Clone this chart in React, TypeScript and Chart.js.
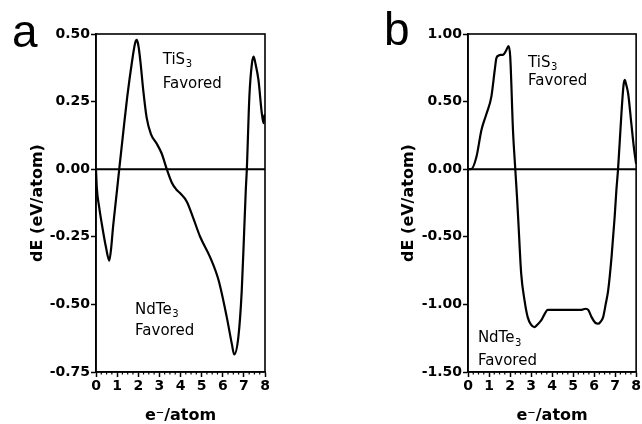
import React, { useEffect, useRef } from "react";
import { Chart, registerables } from "chart.js";

Chart.register(...registerables);

// ---------- data ----------
const xA = [0, 0.04, 0.15, 0.27, 0.47, 0.63, 0.72, 0.8, 0.95, 1.1, 1.3, 1.48, 1.69, 1.85, 1.93, 2.0, 2.1, 2.24, 2.4, 2.6, 2.87, 3.11, 3.35, 3.59, 3.8, 4.0, 4.3, 4.6, 4.93, 5.4, 5.8, 6.19, 6.43, 6.54, 6.74, 6.9, 7.01, 7.09, 7.14, 7.26, 7.38, 7.46, 7.55, 7.69, 7.85, 7.93, 7.97, 8.0];
const yA = [0.0, -0.07, -0.14, -0.2, -0.288, -0.338, -0.29, -0.22, -0.11, 0.0, 0.144, 0.268, 0.39, 0.466, 0.478, 0.46, 0.4, 0.29, 0.19, 0.13, 0.095, 0.058, 0.0, -0.05, -0.075, -0.09, -0.12, -0.18, -0.25, -0.325, -0.41, -0.547, -0.646, -0.685, -0.62, -0.448, -0.238, -0.078, 0.0, 0.268, 0.39, 0.416, 0.39, 0.33, 0.206, 0.17, 0.2, 0.18];

const xB = [0, 0.15, 0.4, 0.64, 0.88, 1.11, 1.27, 1.35, 1.45, 1.55, 1.66, 1.75, 1.82, 1.93, 2.01, 2.14, 2.25, 2.33, 2.4, 2.53, 2.69, 2.84, 3.0, 3.16, 3.3, 3.48, 3.65, 3.79, 4.0, 5.0, 5.4, 5.6, 5.72, 5.88, 6.05, 6.19, 6.3, 6.43, 6.55, 6.67, 6.83, 6.98, 7.06, 7.14, 7.3, 7.4, 7.46, 7.52, 7.62, 7.77, 7.9, 8.0];
const yB = [0.0, 0.0, 0.09, 0.29, 0.41, 0.535, 0.73, 0.82, 0.84, 0.845, 0.845, 0.86, 0.88, 0.91, 0.83, 0.29, 0.0, -0.2, -0.4, -0.77, -0.97, -1.094, -1.15, -1.168, -1.15, -1.119, -1.07, -1.04, -1.04, -1.04, -1.04, -1.032, -1.04, -1.094, -1.135, -1.143, -1.13, -1.094, -1.0, -0.896, -0.65, -0.35, -0.156, 0.0, 0.41, 0.62, 0.66, 0.63, 0.56, 0.34, 0.15, 0.04];

const xMin = 0;
const xMax = 8;
const yRangeA = [-0.75, 0.5];
const yRangeB = [-1.5, 1.0];
const yStepA = 0.25;
const yStepB = 0.5;

const xTitle = "e\u207B/atom";
const yTitle = "dE (eV/atom)";

// annotation anchors in data units: [x, y(baseline)]
const notesA = [
  { main: "TiS", sub: "3", x: 3.16, y: 0.39 },
  { main: "Favored", sub: "", x: 3.16, y: 0.3 },
  { main: "NdTe", sub: "3", x: 1.85, y: -0.535 },
  { main: "Favored", sub: "", x: 1.85, y: -0.615 },
];
const notesB = [
  { main: "TiS", sub: "3", x: 2.86, y: 0.758 },
  { main: "Favored", sub: "", x: 2.86, y: 0.622 },
  { main: "NdTe", sub: "3", x: 0.47, y: -1.28 },
  { main: "Favored", sub: "", x: 0.47, y: -1.45 },
];

const FONT = "'DejaVu Sans', sans-serif";

type Note = { main: string; sub: string; x: number; y: number };

function makePlugin(letter: string, letterX: number, letterY: number, notes: Note[]) {
  return {
    id: "frame",
    beforeDatasetsDraw(chart: any) {
      const { ctx, chartArea: a, scales } = chart;
      const y0 = scales.y.getPixelForValue(0);
      ctx.save();
      ctx.strokeStyle = "#000";
      ctx.lineWidth = 2;
      ctx.beginPath();
      ctx.moveTo(a.left, y0);
      ctx.lineTo(a.right, y0);
      ctx.stroke();
      // minor ticks on x axis
      ctx.lineWidth = 1.2;
      for (let i = 0; i <= (xMax - xMin) * 4; i++) {
        if (i % 4 === 0) continue;
        const px = scales.x.getPixelForValue(xMin + i * 0.25);
        ctx.beginPath();
        ctx.moveTo(px, a.bottom);
        ctx.lineTo(px, a.bottom + 2.5);
        ctx.stroke();
      }
      ctx.restore();
    },
    afterDraw(chart: any) {
      const { ctx, chartArea: a, scales } = chart;
      ctx.save();
      ctx.strokeStyle = "#000";
      ctx.lineWidth = 1.6;
      ctx.strokeRect(a.left, a.top, a.right - a.left, a.bottom - a.top);
      ctx.fillStyle = "#000";
      ctx.textBaseline = "alphabetic";
      ctx.textAlign = "left";
      ctx.font = `46px 'Liberation Sans', Arial, sans-serif`;
      ctx.fillText(letter, letterX, letterY);
      for (const n of notes) {
        const px = scales.x.getPixelForValue(n.x);
        const py = scales.y.getPixelForValue(n.y);
        ctx.font = `15px ${FONT}`;
        ctx.fillText(n.main, px, py);
        if (n.sub) {
          const w = ctx.measureText(n.main).width;
          ctx.font = `10px ${FONT}`;
          ctx.fillText(n.sub, px + w + 0.5, py + 3.5);
        }
      }
      ctx.restore();
    },
  };
}

function makeConfig(
  xs: number[],
  ys: number[],
  yRange: number[],
  yStep: number,
  yWidth: number,
  padRight: number,
  yTitlePad: number,
  plugin: any
): any {
  const tickFont = { family: FONT, size: 14, weight: "bold" as const };
  return {
    type: "line",
    data: {
      datasets: [
        {
          data: xs.map((x, i) => ({ x, y: ys[i] })),
          borderColor: "#000",
          borderWidth: 2.2,
          pointRadius: 0,
          fill: false,
          cubicInterpolationMode: "monotone",
        },
      ],
    },
    options: {
      responsive: false,
      animation: false,
      events: [],
      layout: { padding: { top: 34, right: padRight, bottom: 0, left: 0 } },
      plugins: { legend: { display: false }, tooltip: { enabled: false } },
      scales: {
        x: {
          type: "linear",
          min: xMin,
          max: xMax,
          afterFit: (s: any) => {
            s.height = 52;
          },
          ticks: {
            stepSize: 1,
            color: "#000",
            font: tickFont,
            padding: 1,
            maxRotation: 0,
            minRotation: 0,
            callback: (v: any) => String(v),
          },
          grid: {
            drawOnChartArea: false,
            drawTicks: true,
            tickLength: 5,
            tickColor: "#000",
            tickWidth: 1.5,
          },
          border: { display: true, color: "#000", width: 1.6 },
          title: {
            display: true,
            text: xTitle,
            color: "#000",
            font: { family: FONT, size: 16, weight: "bold" },
            padding: { top: 0, bottom: -1 },
          },
        },
        y: {
          type: "linear",
          min: yRange[0],
          max: yRange[1],
          afterFit: (s: any) => {
            s.width = yWidth;
          },
          ticks: {
            stepSize: yStep,
            color: "#000",
            font: tickFont,
            padding: 1,
            callback: (v: any) => Number(v).toFixed(2),
          },
          grid: {
            drawOnChartArea: false,
            drawTicks: true,
            tickLength: 5,
            tickColor: "#000",
            tickWidth: 1.5,
          },
          border: { display: true, color: "#000", width: 1.6 },
          title: {
            display: true,
            text: yTitle,
            color: "#000",
            font: { family: FONT, size: 16, weight: "bold" },
            padding: { top: yTitlePad, bottom: 0 },
          },
        },
      },
    },
    plugins: [plugin],
  };
}

export default function App() {
  const refA = useRef<HTMLCanvasElement>(null);
  const refB = useRef<HTMLCanvasElement>(null);

  useEffect(() => {
    const ca = new Chart(
      refA.current as HTMLCanvasElement,
      makeConfig(xA, yA, yRangeA, yStepA, 96, 56, 28, makePlugin("a", 12, 47, notesA))
    );
    const cb = new Chart(
      refB.current as HTMLCanvasElement,
      makeConfig(xB, yB, yRangeB, yStepB, 147, 5, 78, makePlugin("b", 63, 45, notesB))
    );
    return () => {
      ca.destroy();
      cb.destroy();
    };
  }, []);

  return (
    <div
      style={{
        position: "absolute",
        left: 0,
        top: 0,
        width: 642,
        height: 424,
        background: "#fff",
        overflow: "hidden",
      }}
    >
      <canvas
        ref={refA}
        width={321}
        height={424}
        style={{ position: "absolute", left: 0, top: 0, width: 321, height: 424 }}
      />
      <canvas
        ref={refB}
        width={321}
        height={424}
        style={{ position: "absolute", left: 321, top: 0, width: 321, height: 424 }}
      />
    </div>
  );
}
